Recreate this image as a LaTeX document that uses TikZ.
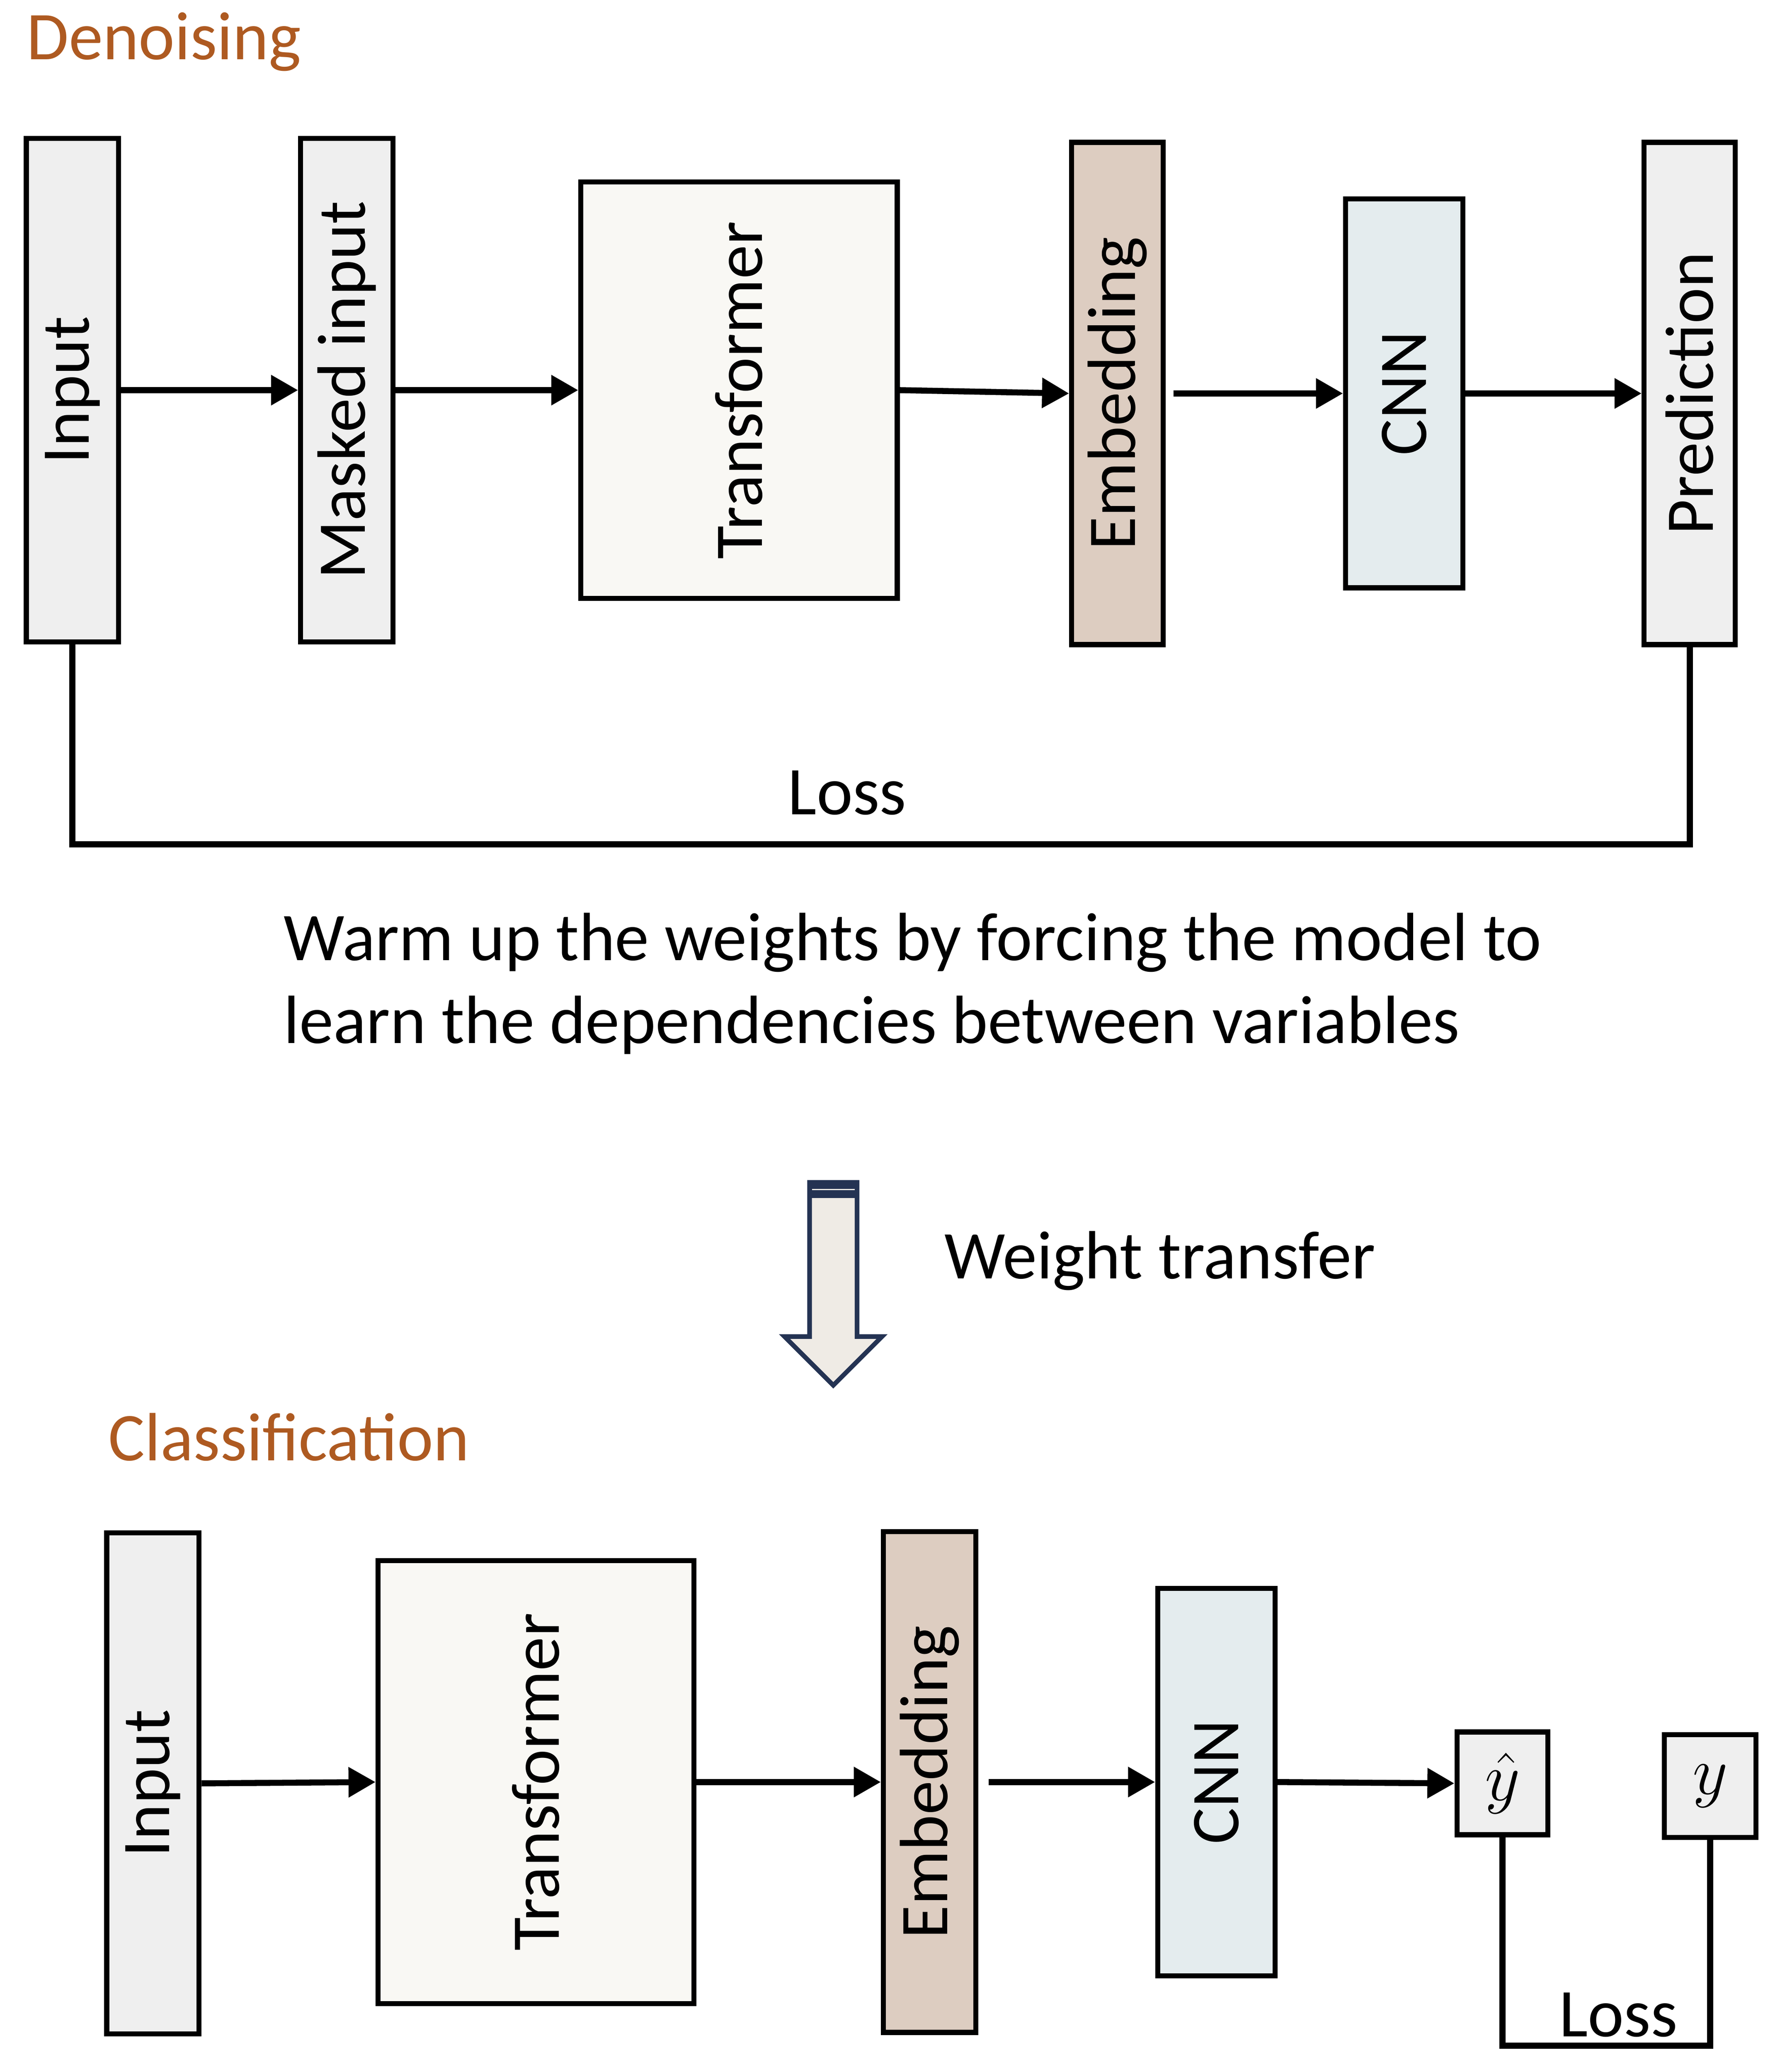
\RequirePackage{fix-cm}
\documentclass[tikz,border=0pt]{standalone}
\usepackage{fontspec}
\setmainfont{Carlito}
\usetikzlibrary{arrows.meta,positioning}
\definecolor{titlebrown}{RGB}{174,90,33}
\definecolor{boxgray}{RGB}{239,239,239}
\definecolor{trcream}{RGB}{249,248,244}
\definecolor{embtan}{RGB}{221,205,193}
\definecolor{cnnblue}{RGB}{228,236,238}
\definecolor{navy}{RGB}{36,51,83}
\definecolor{arrowfill}{RGB}{239,235,229}
\tikzset{
  block/.style={draw, line width=2.2pt, inner sep=0pt},
  grayblock/.style={block, fill=boxgray},
  trblock/.style={block, fill=trcream},
  embblock/.style={block, fill=embtan},
  cnnblock/.style={block, fill=cnnblue},
  flow/.style={line width=2.6pt, -{Triangle[length=0.41cm,width=0.44cm]}},
  lossline/.style={line width=2.7pt},
  title/.style={anchor=base west, text=titlebrown}
}
\begin{document}
\begin{tikzpicture}[font=\fontsize{29.5}{35.7}\selectfont, inner sep=0pt]
  \useasboundingbox (0,0) rectangle (27.0,-31.44);

  % denoising
  \node[title] (denoise) at (0.40,-0.90) {Denoising};

  \node[grayblock, minimum width=1.40cm, minimum height=7.64cm] (input1) at (1.10,-5.92) {\rotatebox{90}{Input}};
  \node[grayblock, minimum width=1.40cm, minimum height=7.64cm] (mask) at (5.26,-5.92) {\rotatebox{90}{Masked input}};
  \node[trblock, minimum width=4.80cm, minimum height=6.32cm] (trans1) at (11.21,-5.92) {\rotatebox{90}{Transformer}};
  \node[embblock, minimum width=1.39cm, minimum height=7.62cm] (embed1) at (16.95,-5.97) {\rotatebox{90}{Embedding}};
  \node[cnnblock, minimum width=1.78cm, minimum height=5.90cm] (cnn1) at (21.30,-5.97) {\rotatebox{90}{CNN}};
  \node[grayblock, minimum width=1.38cm, minimum height=7.62cm] (pred) at (25.63,-5.97) {\rotatebox{90}{Prediction}};

  \draw[flow] (input1.east) -- (mask.west);
  \draw[flow] (mask.east) -- (trans1.west);
  \draw[flow] (trans1.east) -- (embed1.west);
  \draw[flow, shorten <=0.12cm] (embed1.east) -- (cnn1.west);
  \draw[flow] (cnn1.east) -- (pred.west);

  \coordinate (lossbar1) at (0,-12.81);
  \draw[lossline] (input1.south) -- (input1.south |- lossbar1) -| (pred.south);
  \node[anchor=base] (loss1) at (12.85,-12.36) {Loss};

  \node[anchor=base west, align=left] (warmup) at (4.30,-15.83)
    {Warm up the weights by forcing the model to\\learn the dependencies between variables};

  % weight transfer
  \filldraw[fill=arrowfill, draw=navy, line width=0.07cm]
    (12.28,-17.94) -- (13.00,-17.94) -- (13.00,-20.28) -- (13.38,-20.28)
    -- (12.64,-21.02) -- (11.90,-20.28) -- (12.28,-20.28) -- cycle;
  \fill[navy] (12.28,-17.94) rectangle (13.00,-18.18);
  \draw[arrowfill, line width=0.6pt] (12.315,-18.05) -- (12.965,-18.05);
  \node[anchor=base west] (transfer) at (14.32,-19.40) {Weight transfer};

  % classification
  \node[title] (classify) at (1.64,-22.16) {Classification};

  \node[grayblock, minimum width=1.40cm, minimum height=7.60cm] (input2) at (2.32,-27.06) {\rotatebox{90}{Input}};
  \node[trblock, minimum width=4.79cm, minimum height=6.72cm] (trans2) at (8.13,-27.04) {\rotatebox{90}{Transformer}};
  \node[embblock, minimum width=1.40cm, minimum height=7.60cm] (embed2) at (14.10,-27.04) {\rotatebox{90}{Embedding}};
  \node[cnnblock, minimum width=1.78cm, minimum height=5.88cm] (cnn2) at (18.45,-27.04) {\rotatebox{90}{CNN}};
  \node[grayblock, minimum width=1.38cm, minimum height=1.56cm] (yhat) at (22.79,-27.06) {$\hat{y}$};
  \node[grayblock, minimum width=1.39cm, minimum height=1.56cm] (ytrue) at (25.94,-27.10) {$y$};

  \draw[flow] (input2.east) -- (trans2.west);
  \draw[flow] (trans2.east) -- (embed2.west);
  \draw[flow, shorten <=0.16cm] (embed2.east) -- (cnn2.west);
  \draw[flow] (cnn2.east) -- (yhat.west);

  \coordinate (lossbar2) at (0,-31.04);
  \draw[lossline] (yhat.south) -- (yhat.south |- lossbar2) -| (ytrue.south);
  \node[anchor=base] (loss2) at (24.55,-30.90) {Loss};
\end{tikzpicture}
\end{document}
